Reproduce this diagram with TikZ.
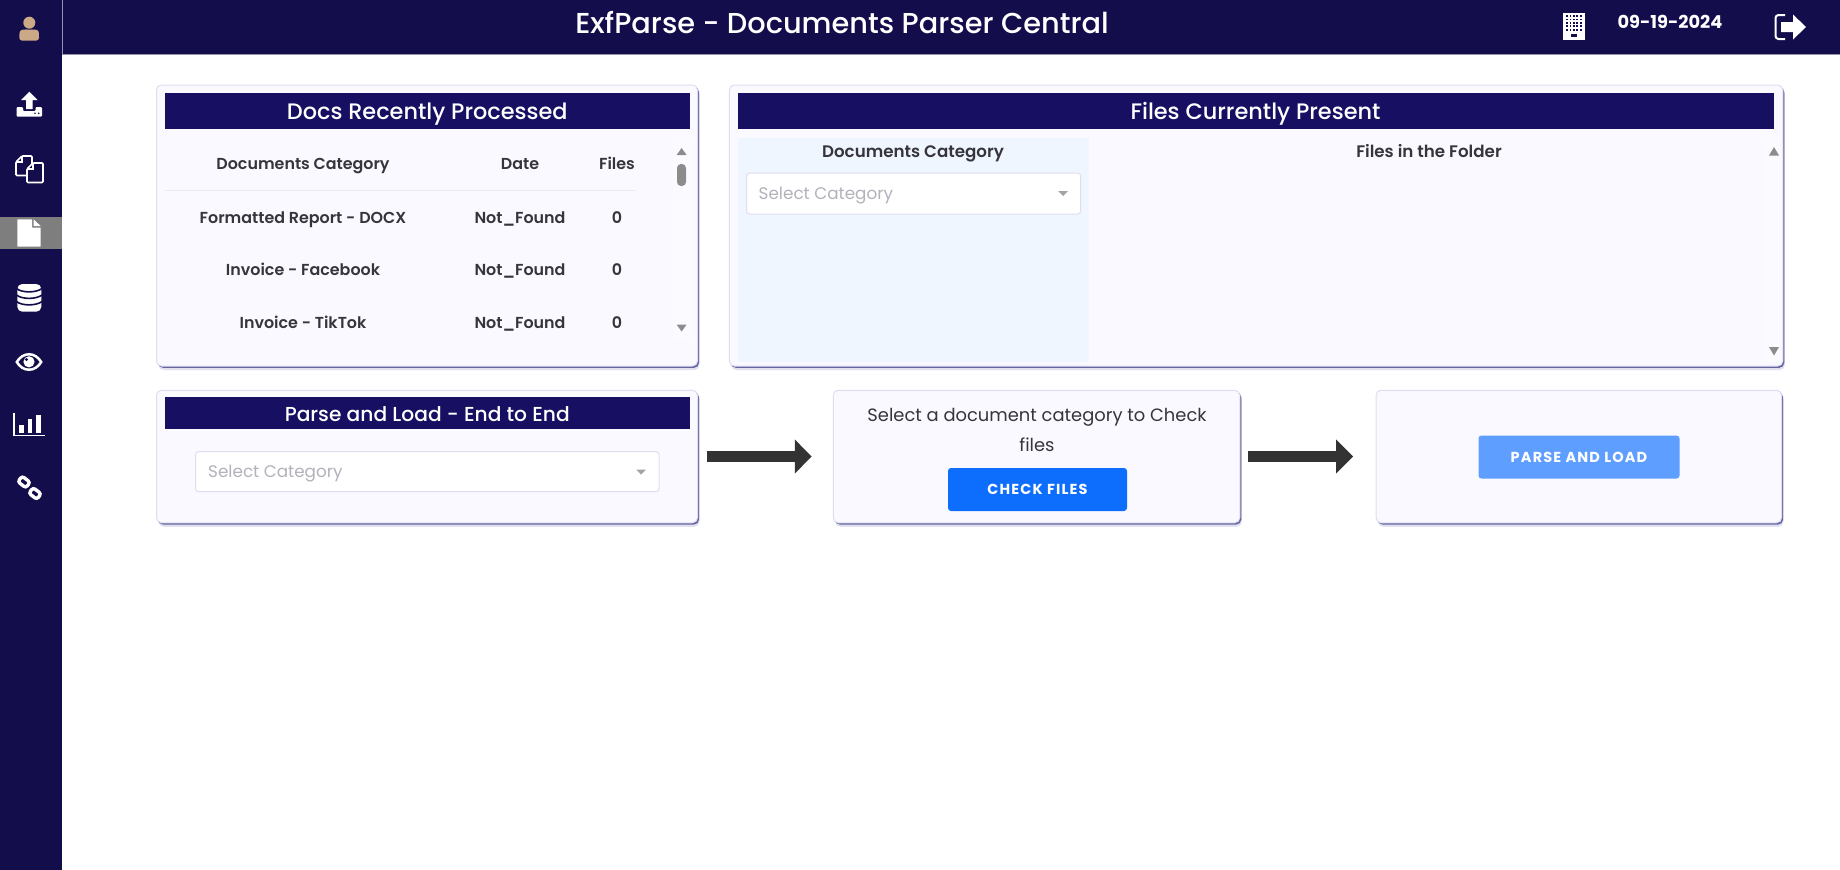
\documentclass[tikz,border=0pt]{standalone}
\usepackage{fontspec}
\setmainfont{Poppins}
\newfontfamily\semibold{Poppins SemiBold}
\newfontfamily\medium{Poppins Medium}
\newfontfamily\btnfont[LetterSpace=8]{Poppins Bold}
\usetikzlibrary{arrows.meta,shadows}

\definecolor{barnavy}{HTML}{130D4C}
\definecolor{headnavy}{HTML}{170F62}
\definecolor{panelbg}{HTML}{F9F9FF}
\definecolor{catbg}{HTML}{EFF6FF}
\definecolor{edgecol}{HTML}{DEDEF0}
\definecolor{shadecol}{HTML}{66649F}
\definecolor{softcol}{HTML}{E0E0EE}
\definecolor{inkcol}{HTML}{37343C}
\definecolor{holdcol}{HTML}{B3B1BA}
\definecolor{trianglecol}{HTML}{8C8C8C}
\definecolor{skincol}{HTML}{CBA987}
\definecolor{checkblue}{HTML}{0D6EFD}
\definecolor{parseblue}{HTML}{5E9EFF}
\definecolor{arrowcol}{HTML}{333333}

\tikzset{
	panel/.style={rectangle, rounded corners=5pt, fill=panelbg, draw=edgecol, line width=1pt, inner sep=0pt,
		general shadow={fill=softcol, shadow xshift=2pt, shadow yshift=-4pt},
		general shadow={fill=shadecol, shadow xshift=1.5pt, shadow yshift=-1.8pt}},
	headbar/.style={rectangle, fill=headnavy, inner sep=0pt, minimum height=36pt},
	headtext/.style={font=\medium\fontsize{22.4}{26}\selectfont, text=white, inner sep=0pt, text height=16pt, text depth=0pt},
	celltext/.style={font=\semibold\fontsize{15.9}{19}\selectfont, text=inkcol, inner sep=0pt, text height=11.5pt, text depth=0pt},
	coltext/.style={font=\semibold\fontsize{16.7}{20}\selectfont, text=inkcol, inner sep=0pt, text height=12pt, text depth=0pt},
	holdtext/.style={font=\fontsize{16.8}{20}\selectfont, text=holdcol, inner sep=0pt, text height=12pt, text depth=0pt},
	hinttext/.style={font=\fontsize{17.9}{21}\selectfont, text=inkcol, inner sep=0pt, text height=13pt, text depth=0pt},
	dropbox/.style={rectangle, rounded corners=3pt, fill=white, draw=edgecol, line width=1pt, inner sep=0pt},
	btn/.style={rectangle, rounded corners=3pt, inner sep=0pt, text=white, font=\btnfont\fontsize{14.5}{17}\selectfont},
	flowarrow/.style={-{Triangle[length=17pt,width=33pt]}, line width=11.5pt, draw=arrowcol},
	tri/.style={fill=trianglecol},
	caret/.style={fill=trianglecol!80!white},
}

\begin{document}
\begin{tikzpicture}[x=1pt, y=-1pt]
	\useasboundingbox (0,0) rectangle (1840,870);

	% Top bar and side bar
	\fill[barnavy] (0,0) rectangle (1840,54.5);
	\fill[barnavy] (0,0) rectangle (62,870);
	\draw[white!55!barnavy, line width=.8pt] (62,0) -- (62,54.5) -- (1840,54.5);
	\node[font=\medium\fontsize{28.8}{33}\selectfont, text=white, inner sep=0pt, text height=20.5pt, text depth=0pt] (title) at (842,23) {ExfParse - Documents Parser Central};
	\node[font=\bfseries\fontsize{17.8}{21}\selectfont, text=white, inner sep=0pt, text height=12.5pt, text depth=0pt] (today) at (1670,22.5) {09-19-2024};

	% Building icon
	\fill[white] (1563,12.5) rectangle (1584.5,39.5);
	\foreach \x in {0,...,4} {
		\foreach \y in {0,...,4} {
			\fill[barnavy] (1567+3.4*\x-.8,16+3.4*\y-.8) rectangle ++(1.7,1.7);
		}
	}
	\fill[barnavy] (1570.5,34) rectangle (1577,37);

	% Logout icon
	\draw[white, line width=2pt, rounded corners=3pt] (1785,15) -- (1775.5,15) -- (1775.5,39) -- (1785,39);
	\fill[white] (1781,22) -- (1793,22) -- (1793,14.5) -- (1806,27) -- (1793,39.5) -- (1793,32) -- (1781,32) -- cycle;

	% Side bar icons
	\fill[skincol] (29.3,22.7) circle (6);
	\fill[skincol, rounded corners=3pt] (19.3,40.7) -- (19.3,35) .. controls (20,30) and (24,29) .. (29.3,30) .. controls (35,29) and (38.5,30) .. (39,35) -- (39,40.7) -- cycle;

	\fill[white] (29.3,91.7) -- (37.5,100) -- (32.7,100) -- (32.7,109) -- (26,109) -- (26,100) -- (21,100) -- cycle;
	\fill[white, rounded corners=1pt] (16.7,107) -- (23,107) -- (23,111) -- (35.5,111) -- (35.5,107) -- (42,107) -- (42,116.7) -- (16.7,116.7) -- cycle;
	\fill[barnavy] (35,113.3) circle (.9) (38.7,113.3) circle (.9);

	\foreach \px/\py in {16/156,27/163} {
		\draw[white, line width=1.6pt, fill=barnavy, rounded corners=1pt] (\px+6,\py) -- (\px+16,\py) -- (\px+16,\py+19.5) -- (\px,\py+19.5) -- (\px,\py+6) -- cycle;
		\draw[white, line width=1.2pt] (\px+6,\py) -- (\px+6,\py+6) -- (\px,\py+6);
	}

	\fill[trianglecol!90!black] (0,217.3) rectangle (62,249.3);
	\fill[white, rounded corners=.5pt] (17.3,219.3) -- (32,219.3) -- (32,227.5) -- (40.7,227.5) -- (40.7,246.7) -- (17.3,246.7) -- cycle;
	\fill[white] (33.5,219.3) -- (40.7,226) -- (33.5,226) -- cycle;

	\fill[white, rounded corners=5pt] (17.3,284) rectangle (41.3,311.7);
	\foreach \y in {288.5,295,301.5} {
		\draw[barnavy, line width=1.6pt] (16.5,\y) .. controls (22,\y+4.5) and (36,\y+4.5) .. (42,\y);
	}

	\fill[white] (15.3,362) .. controls (22,350) and (36,350) .. (42.7,362) .. controls (36,374) and (22,374) .. (15.3,362) -- cycle;
	\fill[barnavy] (18.5,362) .. controls (24,353.5) and (34,353.5) .. (39.5,362) .. controls (34,370.5) and (24,370.5) .. (18.5,362) -- cycle;
	\fill[white] (29,361.8) circle (5.6);
	\fill[barnavy] (26.5,359.5) circle (1.6);

	\draw[white, line width=1.4pt] (14,412.7) -- (14,435.6) -- (44.7,435.6);
	\foreach \bx/\by in {19.3/425,27.5/418.5,36/415} {
		\fill[white] (\bx,\by) rectangle (\bx+4.7,432.7);
	}

	\draw[white, line width=3.4pt, rounded corners=2.5pt, rotate around={-38:(24,482)}] (19,478.5) rectangle (29,485.5);
	\draw[white, line width=3.4pt, rounded corners=2.5pt, rotate around={-38:(35,493.5)}] (30,490) rectangle (40,497);

	% Docs Recently Processed
	\node[panel, minimum width=541pt, minimum height=281pt] (docs) at (427,225.5) {};
	\node[headbar, minimum width=525.5pt] (docshead) at (427.25,111) {};
	\node[headtext] (docstitle) at (docshead.center) {Docs Recently Processed};
	\fill[panelbg!70!white] (673,138) rectangle (690,340);
	\node[celltext] (colcat) at (303,164) {Documents Category};
	\node[celltext] (coldate) at (520,164) {Date};
	\node[celltext] (colfiles) at (617,164) {Files};
	\draw[black!8, line width=.8pt] (164.5,190.7) -- (635.5,190.7);
	\foreach \row/\y/\cat in {a/217.7/Formatted Report - DOCX, b/269.7/Invoice - Facebook, c/322.3/Invoice - TikTok} {
		\node[celltext] (cat\row) at (303,\y) {\cat};
		\node[celltext] (date\row) at (520,\y) {Not\_Found};
		\node[celltext] (num\row) at (617,\y) {0};
	}
	\fill[tri] (681.6,148) -- (686.6,155) -- (676.6,155) -- cycle;
	\fill[tri] (681.6,331.5) -- (686.6,324.5) -- (676.6,324.5) -- cycle;
	\fill[trianglecol, rounded corners=4pt] (677,164) rectangle (686,186);

	% Files Currently Present
	\node[panel, minimum width=1053.5pt, minimum height=281pt] (files) at (1256,225.5) {};
	\node[headbar, minimum width=1036pt] (fileshead) at (1255.5,111) {};
	\node[headtext] (filestitle) at (fileshead.center) {Files Currently Present};
	\fill[catbg] (738,138) rectangle (1089,362);
	\fill[panelbg!70!white] (1766,138) rectangle (1781,362);
	\node[coltext] (filescat) at (913,151.7) {Documents Category};
	\node[dropbox, minimum width=334pt, minimum height=41pt] (filesdrop) at (913.7,193.5) {};
	\node[holdtext, anchor=west] (filesholder) at (758.5,193) {Select Category};
	\fill[caret] (1058,191) -- (1068,191) -- (1063,196) -- cycle;
	\node[coltext] (folder) at (1429,151.7) {Files in the Folder};
	\fill[tri] (1774,147) -- (1779,155.5) -- (1769,155.5) -- cycle;
	\fill[tri] (1774,355.5) -- (1779,347) -- (1769,347) -- cycle;

	% Parse and Load
	\node[panel, minimum width=541pt, minimum height=132.5pt] (parse) at (427,456.5) {};
	\node[headbar, minimum width=525.5pt, minimum height=32pt] (parsehead) at (427.25,413.3) {};
	\node[headtext, font=\medium\fontsize{20.2}{24}\selectfont] (parsetitle) at (parsehead.center) {Parse and Load - End to End};
	\node[dropbox, minimum width=463.5pt, minimum height=40pt] (parsedrop) at (427.25,471.7) {};
	\node[holdtext, anchor=west] (parseholder) at (208,471.2) {Select Category};
	\fill[caret] (636,469.5) -- (646,469.5) -- (641,474.5) -- cycle;

	% Check files
	\node[panel, minimum width=406.5pt, minimum height=132.5pt] (check) at (1036.5,456.5) {};
	\node[hinttext] (hintone) at (1037,415) {Select a document category to Check};
	\node[hinttext] (hinttwo) at (1037,444.5) {files};
	\node[btn, fill=checkblue, minimum width=179pt, minimum height=43pt] (checkbtn) at (1037.5,489.5) {CHECK FILES};

	% Parse button
	\node[panel, minimum width=405.5pt, minimum height=132.5pt] (load) at (1578.8,456.5) {};
	\node[btn, fill=parseblue, minimum width=201pt, minimum height=43pt] (loadbtn) at (1579,457) {PARSE AND LOAD};

	% Arrows
	\draw[flowarrow, shorten <=8.5pt, shorten >=21pt] (parse) -- (check);
	\draw[flowarrow, shorten <=8pt, shorten >=22.5pt] (check) -- (load);
\end{tikzpicture}
\end{document}
